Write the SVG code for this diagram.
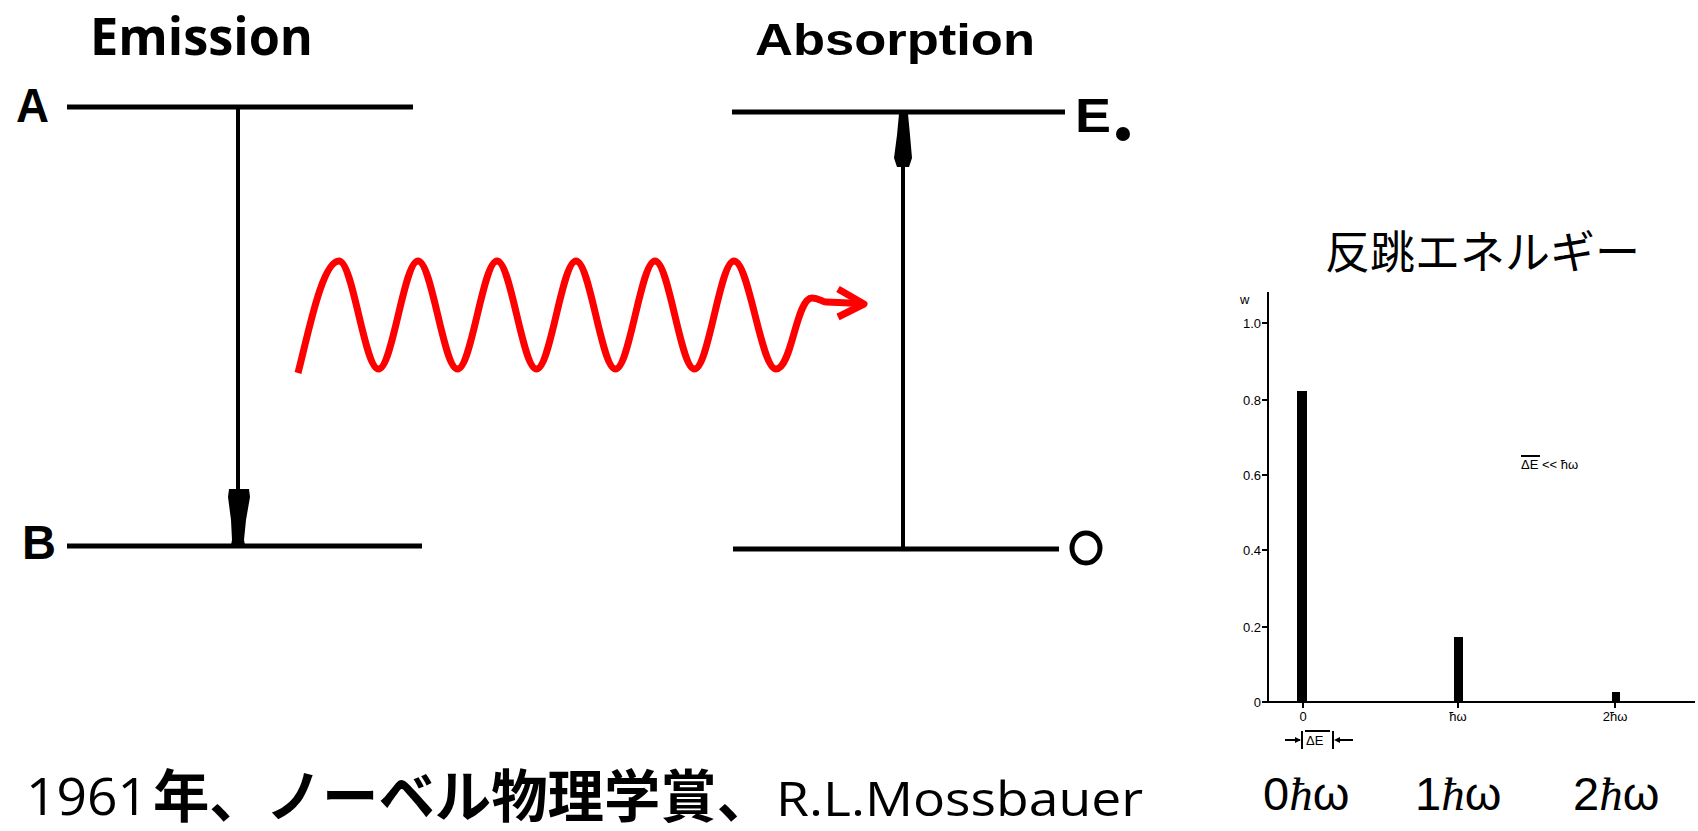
<svg xmlns="http://www.w3.org/2000/svg" width="1698" height="831" viewBox="0 0 1698 831">
<style>
.lvl{stroke:#000;stroke-width:5;fill:none;stroke-linecap:butt}
.vert{stroke:#000;stroke-width:4;fill:none}
.lbl{font-family:"Liberation Sans",Arial,sans-serif;font-weight:bold;font-size:48px;fill:#000}
.head{font-family:"Open Sans","Liberation Sans",Arial,sans-serif;font-weight:bold;fill:#000}
.ax{stroke:#000;stroke-width:2;fill:none}
.tk{font-family:"Liberation Sans",Arial,sans-serif;font-size:13px;fill:#000}
.big{font-family:"Liberation Sans",Arial,sans-serif;font-size:47px;fill:#000}
.wave{stroke:#ff0000;stroke-width:7;fill:none;stroke-linecap:butt;stroke-linejoin:round}
.cap{font-family:"Open Sans","Liberation Sans",Arial,sans-serif;fill:#000}
</style>

<g id="emission">
  <text class="head" x="90" y="55" font-size="52" textLength="223" lengthAdjust="spacingAndGlyphs">Emission</text>
  <text class="lbl" x="16" y="122" textLength="33" lengthAdjust="spacingAndGlyphs">A</text>
  <line class="lvl" x1="67" y1="107" x2="413" y2="107"/>
  <text class="lbl" x="22" y="559" textLength="34" lengthAdjust="spacingAndGlyphs">B</text>
  <line class="lvl" x1="67" y1="546" x2="422" y2="546"/>
  <line class="vert" x1="238" y1="107" x2="238" y2="492"/>
  <polygon fill="#000" points="229,489 249,489 250,497 246,520 244,540 245,545 231,545 232,540 231,520 228,497"/>
</g>

<g id="absorption">
  <text x="755" y="55" font-family="'Liberation Sans',Arial,sans-serif" font-weight="bold" font-size="45" fill="#000" textLength="280" lengthAdjust="spacingAndGlyphs">Absorption</text>
  <line class="lvl" x1="732" y1="112" x2="1065" y2="112"/>
  <text class="lbl" x="1075" y="132" textLength="36" lengthAdjust="spacingAndGlyphs">E</text>
  <circle cx="1123" cy="134" r="7" fill="#000"/>
  <line class="lvl" x1="733" y1="549" x2="1059" y2="549"/>
  <ellipse cx="1086" cy="548" rx="14" ry="15" fill="none" stroke="#000" stroke-width="5"/>
  <line class="vert" x1="903" y1="112" x2="903" y2="549"/>
  <polygon fill="#000" points="899,114 908,114 910,135 912,158 909,167 897,167 894,158 897,135"/>
</g>

<g id="connectors">
  <path class="wave" d="M298,373 C308,335 322,261 339,261 C353,261 364.5,369 378.5,369 C392.5,369 404,261 418,261 C432,261 443.5,369 457.5,369 C471.5,369 483,261 497,261 C511,261 522.5,369 536.5,369 C550.5,369 562,261 576,261 C590,261 601.5,369 615.5,369 C629.5,369 641,261 655,261 C669,261 680.5,369 694.5,369 C708.5,369 720,261 734,261 C749,261 761,369 776,369 C792,369 796,298 812,298 C819,298 822,302 826,302 L862,303.5"/>
  <polyline class="wave" stroke-linecap="round" stroke-linejoin="miter" points="838,289 864,304 838,317"/>
</g>

<g id="chart">
  <text x="1325" y="269" font-family="'Noto Sans CJK JP',sans-serif" font-size="45" fill="#000">反跳エネルギー</text>
  <text class="tk" x="1240" y="304">w</text>
  <line class="ax" x1="1268" y1="292" x2="1268" y2="703"/>
  <line class="ax" x1="1267" y1="702" x2="1695" y2="702"/>
  <g class="ax">
    <line x1="1262" y1="323" x2="1268" y2="323"/>
    <line x1="1262" y1="400" x2="1268" y2="400"/>
    <line x1="1262" y1="475" x2="1268" y2="475"/>
    <line x1="1262" y1="550" x2="1268" y2="550"/>
    <line x1="1262" y1="627" x2="1268" y2="627"/>
    <line x1="1262" y1="702" x2="1268" y2="702"/>
    <line x1="1303" y1="702" x2="1303" y2="708"/>
    <line x1="1458" y1="702" x2="1458" y2="708"/>
    <line x1="1615" y1="702" x2="1615" y2="708"/>
  </g>
  <g class="tk" text-anchor="end">
    <text x="1261" y="328">1.0</text>
    <text x="1261" y="405">0.8</text>
    <text x="1261" y="480">0.6</text>
    <text x="1261" y="555">0.4</text>
    <text x="1261" y="632">0.2</text>
    <text x="1261" y="707">0</text>
  </g>
  <rect x="1297" y="391" width="10" height="311" fill="#000"/>
  <rect x="1454" y="637" width="9" height="65" fill="#000"/>
  <rect x="1612" y="692" width="8" height="10" fill="#000"/>
  <g class="tk" text-anchor="middle">
    <text x="1303" y="721">0</text>
    <text x="1458" y="721">ħω</text>
    <text x="1615" y="721">2ħω</text>
  </g>
  <g class="ax" stroke-width="1.5">
    <line x1="1285" y1="740" x2="1300" y2="740"/>
    <line x1="1302" y1="731" x2="1302" y2="749"/>
    <line x1="1305" y1="731" x2="1330" y2="731"/>
    <line x1="1333" y1="731" x2="1333" y2="749"/>
    <line x1="1336" y1="740" x2="1353" y2="740"/>
  </g>
  <path d="M1301,740 l-6,-3 v6 z M1334,740 l6,-3 v6 z" fill="#000"/>
  <text class="tk" x="1306" y="745">ΔE</text>
  <line class="ax" stroke-width="1.5" x1="1521" y1="456" x2="1540" y2="456"/>
  <text class="tk" x="1521" y="469">ΔE  &lt;&lt; ħω</text>
  <text class="big" x="1263" y="810">0<tspan font-family="'Liberation Serif',serif" font-style="italic">ħ</tspan>ω</text>
  <text class="big" x="1415" y="810">1<tspan font-family="'Liberation Serif',serif" font-style="italic">ħ</tspan>ω</text>
  <text class="big" x="1573" y="810">2<tspan font-family="'Liberation Serif',serif" font-style="italic">ħ</tspan>ω</text>
</g>

<g id="caption">
  <text class="cap" x="26" y="815" font-size="52" textLength="122" lengthAdjust="spacingAndGlyphs">1961</text>
  <text x="153" y="817" font-family="'Noto Sans CJK JP',sans-serif" font-weight="bold" font-size="57" fill="#000" textLength="620" lengthAdjust="spacingAndGlyphs">年、ノーベル物理学賞、</text>
  <text class="cap" x="776" y="816" font-size="48" textLength="367" lengthAdjust="spacingAndGlyphs">R.L.Mossbauer</text>
</g>
</svg>
